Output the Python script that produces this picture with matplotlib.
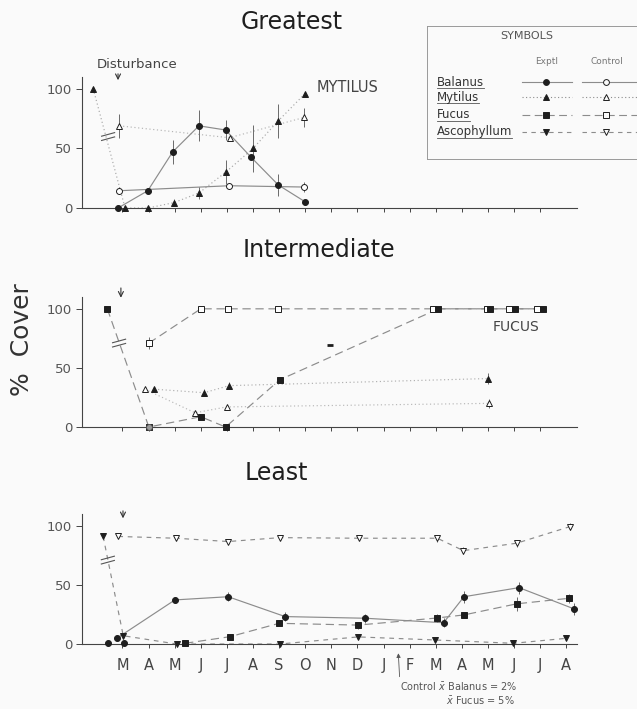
import numpy as np
import matplotlib.pyplot as plt

# x positions are months after the disturbance: 0 = first March (Mar yr1) ... 17 = Aug yr2
month_labels = ['M', 'A', 'M', 'J', 'J', 'A', 'S', 'O', 'N', 'D', 'J', 'F', 'M', 'A', 'M', 'J', 'J', 'A']

###########################################################
# Greatest disturbance
g_bal_exp_t = [-0.17, 0.97, 1.92, 2.93, 3.95, 4.91, 5.97, 6.99]
g_bal_exp_v = [0, 14.5, 47, 69, 65.5, 43, 19.3, 5.3]
g_bal_exp_e = [0, 0, 10, 13, 8, 0, 9, 0]

g_bal_ctl_t = [-0.12, 4.09, 6.95]
g_bal_ctl_v = [14.5, 18.7, 17.6]
g_bal_ctl_e = [3, 0, 4]

g_myt_exp_t = [-1.12, 0.1, 0.98, 1.97, 2.93, 3.95, 5.0, 5.96, 6.99]
g_myt_exp_v = [100, 0, 0, 4.5, 12.6, 30, 50, 73, 96]
g_myt_exp_e = [0, 0, 0, 3, 5, 10, 20, 14, 0]

g_myt_ctl_t = [-0.12, 4.1, 6.95]
g_myt_ctl_v = [69, 59, 76]
g_myt_ctl_e = [10, 0, 8]

###########################################################
# Intermediate disturbance
i_fuc_exp_t = [-0.58, 1.01, 3.0, 3.95, 6.03, 12.1, 14.08, 15.04, 16.1]
i_fuc_exp_v = [100, 0, 8.7, 0, 40, 100, 100, 100, 100]

i_fuc_ctl_t = [1.01, 3.0, 4.05, 5.97, 11.9, 13.97, 14.8, 15.87]
i_fuc_ctl_v = [71, 100, 100, 100, 100, 100, 100, 100]
i_fuc_ctl_e = [5, 0, 0, 0, 0, 0, 0, 0]

i_myt_exp_t = [1.22, 3.13, 4.08, 14.0]
i_myt_exp_v = [32, 29, 35, 41]
i_myt_exp_e = [0, 3, 3, 5]

i_myt_ctl_t = [0.86, 2.78, 3.99, 14.05]
i_myt_ctl_v = [32, 12, 17, 20]
i_myt_ctl_e = [0, 0, 0, 4]

i_bal_exp_t = [1.01]
i_bal_exp_v = [0]
i_stray_t = [7.95]
i_stray_v = [69.5]

###########################################################
# Least disturbance
l_bal_exp_t = [-0.57, -0.22, 0.07, 2.01, 4.05, 6.23, 9.29, 12.3, 13.08, 15.19, 17.3]
l_bal_exp_v = [0.6, 4.8, 0.6, 37.3, 40, 23.2, 21.8, 18, 40, 47.7, 29.7]
l_bal_exp_e = [0, 0, 0, 0, 4, 4, 4, 4, 5, 5, 5]

l_fuc_exp_t = [2.4, 4.12, 6.0, 9.03, 12.04, 13.08, 15.1, 17.12]
l_fuc_exp_v = [0.6, 6.2, 17.5, 16, 22, 24.6, 34, 38.7]
l_fuc_exp_e = [0, 0, 0, 3, 3, 0, 6, 4]

l_asc_exp_t = [-0.74, 0.03, 2.07, 6.03, 9.03, 11.97, 14.97, 17.0]
l_asc_exp_v = [91, 7, 0, 0, 6, 3.4, 0.6, 4.8]

l_asc_ctl_t = [-0.16, 2.05, 4.05, 6.03, 9.07, 12.06, 13.06, 15.1, 17.15]
l_asc_ctl_v = [91, 89.5, 86.7, 90, 89.5, 89.5, 79, 85.3, 99.4]
l_asc_ctl_e = [0, 0, 0, 0, 0, 3, 3, 3, 3]
###########################################################

W, H = 637, 709
bg = '#fafafa'
line_col = '#8c8c8c'
ink = '#1e1e1e'
styles = {
    'bal': dict(ls='-', marker='o'),
    'myt': dict(ls=(0, (1, 2.2)), marker='^'),
    'fuc': dict(ls=(0, (7, 4)), marker='s'),
    'asc': dict(ls=(0, (4, 4)), marker='v'),
}

plt.rcParams['font.family'] = 'DejaVu Sans'
plt.rcParams['mathtext.fontset'] = 'dejavusans'

fig = plt.figure(figsize=(W / 100, H / 100), dpi=100, facecolor=bg)


def px_axes(x0, x1, ytop, ybot):
    return fig.add_axes([x0 / W, 1 - ybot / H, (x1 - x0) / W, (ybot - ytop) / H])


def series(ax, t, v, kind, filled=True, err=None, line=True, ms=4.3, lc=line_col):
    st = styles[kind]
    if line:
        ax.plot(t, v, ls=st['ls'], color=lc, lw=0.85, zorder=2, clip_on=False)
    if err is not None:
        ax.errorbar(t, v, yerr=err, fmt='none', ecolor='#6a6a6a', elinewidth=0.7,
                    capsize=0, zorder=3, clip_on=False)
    ax.plot(t, v, ls='none', marker=st['marker'], ms=ms,
            mfc=ink if filled else 'white', mec=ink, mew=0.7, zorder=4, clip_on=False)


def break_mark(ax, t, v):
    for dv in (-1.8, 1.8):
        ax.plot([t - 0.25, t + 0.25], [v + dv - 1.5, v + dv + 1.5], color='#555', lw=0.8)


def disturb_arrow(ax, t, y_from, y_to):
    ax.annotate('', xy=(t, y_to), xytext=(t, y_from), annotation_clip=False,
                arrowprops=dict(arrowstyle='->', color='#333', lw=0.8,
                                mutation_scale=9))


def setup(ax, nticks, labels=False):
    ax.set_facecolor(bg)
    ax.set_xlim(-1.55, 17.41)
    ax.set_ylim(0, 110)
    for s in ('top', 'right'):
        ax.spines[s].set_visible(False)
    for s in ('left', 'bottom'):
        ax.spines[s].set_color('#444')
        ax.spines[s].set_linewidth(0.8)
    ax.set_xticks(range(nticks))
    if labels:
        ax.set_xticklabels(month_labels, fontsize=10.5, color='#444')
    else:
        ax.set_xticklabels([])
    ax.set_yticks([0, 50, 100])
    ax.set_yticklabels(['0', '50', '100'], fontsize=9.5, color='#555')
    ax.tick_params(axis='x', direction='out', length=3, width=0.7, color='#444', pad=7)
    ax.tick_params(axis='y', direction='out', length=4, width=0.7, color='#444', pad=3)


# ---------------- Greatest
ax1 = px_axes(82, 577, 77, 208)
setup(ax1, 17)
series(ax1, g_myt_exp_t, g_myt_exp_v, 'myt', True, g_myt_exp_e, lc='#a8a8a8')
series(ax1, g_myt_ctl_t, g_myt_ctl_v, 'myt', False, g_myt_ctl_e, lc='#b5b5b5')
series(ax1, g_bal_exp_t, g_bal_exp_v, 'bal', True, g_bal_exp_e)
series(ax1, g_bal_ctl_t, g_bal_ctl_v, 'bal', False, g_bal_ctl_e)
break_mark(ax1, -0.55, 60)
disturb_arrow(ax1, -0.17, 115, 105)

# ---------------- Intermediate
ax2 = px_axes(82, 577, 297, 427)
setup(ax2, 17)
series(ax2, i_myt_exp_t, i_myt_exp_v, 'myt', True, i_myt_exp_e, lc='#b0b0b0')
series(ax2, i_myt_ctl_t, i_myt_ctl_v, 'myt', False, i_myt_ctl_e, lc='#b8b8b8')
series(ax2, i_fuc_ctl_t, i_fuc_ctl_v, 'fuc', False, i_fuc_ctl_e)
series(ax2, i_fuc_exp_t, i_fuc_exp_v, 'fuc', True)
ax2.plot(i_bal_exp_t, i_bal_exp_v, ls='none', marker='o', ms=4.3, mfc='#9a9a9a',
         mec='#555', mew=0.7, zorder=5, clip_on=False)
ax2.plot(i_stray_t, i_stray_v, ls='none', marker='_', ms=5, mew=2, color=ink, zorder=5)
break_mark(ax2, -0.13, 71)
disturb_arrow(ax2, -0.06, 120, 107)

# ---------------- Least
ax3 = px_axes(82, 577, 514, 644)
setup(ax3, 18, labels=True)
series(ax3, l_asc_ctl_t, l_asc_ctl_v, 'asc', False, l_asc_ctl_e)
series(ax3, l_asc_exp_t, l_asc_exp_v, 'asc', True)
series(ax3, l_fuc_exp_t, l_fuc_exp_v, 'fuc', True, l_fuc_exp_e)
# balanus line starts after the pre-disturbance points
bal_line = [1] + list(range(3, len(l_bal_exp_t)))
ax3.plot([l_bal_exp_t[i] for i in bal_line], [l_bal_exp_v[i] for i in bal_line],
         color=line_col, lw=0.85, zorder=2)
series(ax3, l_bal_exp_t, l_bal_exp_v, 'bal', True, l_bal_exp_e, line=False)
break_mark(ax3, -0.56, 71)
disturb_arrow(ax3, 0.02, 115, 104)
ax3.annotate('', xy=(10.56, -5.5), xytext=(10.62, -30), annotation_clip=False,
             arrowprops=dict(arrowstyle='-|>', color='#555', lw=0.6, mutation_scale=6))

# ---------------- Titles and labels
fig.text(292 / W, 1 - 22 / H, 'Greatest', fontsize=17, color=ink, ha='center', va='center')
fig.text(319 / W, 1 - 250 / H, 'Intermediate', fontsize=17, color=ink, ha='center', va='center')
fig.text(276 / W, 1 - 473 / H, 'Least', fontsize=17, color=ink, ha='center', va='center')
fig.text(22 / W, 1 - 340 / H, '%  Cover', fontsize=18, color='#333', rotation=90,
         ha='center', va='center')
fig.text(137 / W, 1 - 65 / H, 'Disturbance', fontsize=9.5, color='#444', ha='center', va='center')
fig.text(317 / W, 1 - 87 / H, 'MYTILUS', fontsize=10.5, color='#444', ha='left', va='center')
fig.text(493 / W, 1 - 327 / H, 'FUCUS', fontsize=10, color='#444', ha='left', va='center')
fig.text(400 / W, 1 - 687 / H, r'Control $\bar{x}$ Balanus = 2%', fontsize=7, color='#555',
         ha='left', va='center')
fig.text(446 / W, 1 - 701 / H, r'$\bar{x}$ Fucus = 5%', fontsize=7, color='#555',
         ha='left', va='center')

# ---------------- Symbols box
lg = px_axes(427, 642, 26, 159)
lg.set_xlim(427, 642)
lg.set_ylim(159, 26)
lg.set_xticks([])
lg.set_yticks([])
lg.set_facecolor(bg)
lg.spines['right'].set_visible(False)
for s in ('left', 'top', 'bottom'):
    lg.spines[s].set_color('#999')
    lg.spines[s].set_linewidth(0.7)
lg.text(527, 36, 'SYMBOLS', fontsize=8, color='#555', ha='center', va='center')
lg.text(547, 62, 'Exptl', fontsize=6.5, color='#777', ha='center', va='center')
lg.text(607, 62, 'Control', fontsize=6.5, color='#777', ha='center', va='center')
legend_rows = [('Balanus', 'bal', 82), ('Mytilus', 'myt', 97),
               ('Fucus', 'fuc', 115), ('Ascophyllum', 'asc', 132)]
renderer = fig.canvas.get_renderer()
for name, kind, y in legend_rows:
    txt = lg.text(437, y, name, fontsize=8.5, color='#333', ha='left', va='center')
    # underline the species name
    bb = txt.get_window_extent(renderer).transformed(lg.transData.inverted())
    lg.plot([bb.x0, bb.x1], [y + 6, y + 6], color='#555', lw=0.6)
    st = styles[kind]
    for x0, x1, xm, filled in ((522, 572, 546, True), (582, 640, 606, False)):
        lg.plot([x0, x1], [y, y], ls=st['ls'], color=line_col, lw=0.8)
        lg.plot([xm], [y], ls='none', marker=st['marker'], ms=4.2,
                mfc=ink if filled else bg, mec=ink, mew=0.7)

plt.savefig('out.png', dpi=100, facecolor=bg)
